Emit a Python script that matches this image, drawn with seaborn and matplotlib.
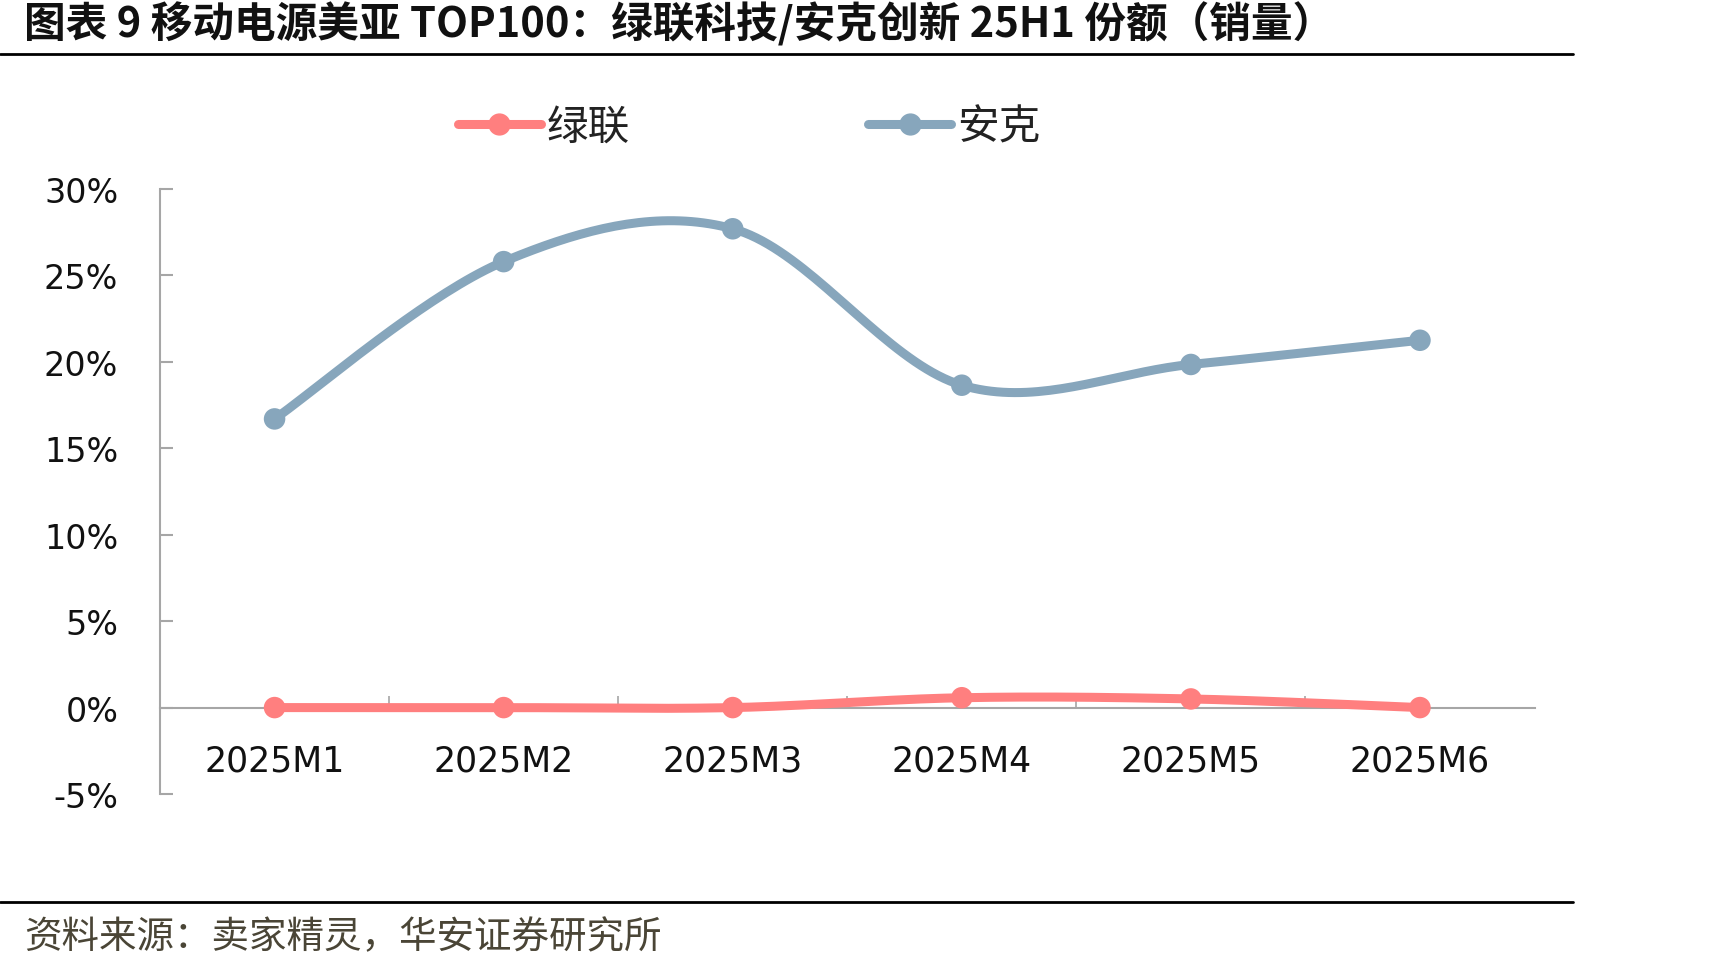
import numpy as np
import pandas as pd
import matplotlib
matplotlib.use("Agg")
import matplotlib.pyplot as plt
from matplotlib.lines import Line2D
from matplotlib.ticker import FixedLocator, PercentFormatter
import seaborn as sns

sns.set_theme(style="white")
plt.rcParams["font.family"] = ["Noto Sans CJK SC", "DejaVu Sans"]
plt.rcParams["axes.unicode_minus"] = False

# Data
months = ["2025M1", "2025M2", "2025M3", "2025M4", "2025M5", "2025M6"]
ugreen = [0.0, 0.0, 0.0, 0.0057, 0.0050, 0.0]
anker = [0.167, 0.258, 0.277, 0.1865, 0.1985, 0.2125]
series_names = ["绿联", "安克"]
colors = {"绿联": "#FF7F7F", "安克": "#87A6BC"}

title = "图表 9 移动电源美亚 TOP100：绿联科技/安克创新 25H1 份额（销量）"
source = "资料来源：卖家精灵，华安证券研究所"


def smooth(y, n=40):
    # Excel-style smoothed line: cubic Bezier with Catmull-Rom control points
    x = np.arange(len(y), dtype=float)
    y = np.asarray(y, dtype=float)
    xs, ys = [], []
    for i in range(len(y) - 1):
        x0, y0 = x[i], y[i]
        x3, y3 = x[i + 1], y[i + 1]
        xp, yp = (x[i - 1], y[i - 1]) if i > 0 else (x0, y0)
        xn, yn = (x[i + 2], y[i + 2]) if i + 2 < len(y) else (x3, y3)
        x1, y1 = x0 + (x3 - xp) / 6, y0 + (y3 - yp) / 6
        x2, y2 = x3 - (xn - x0) / 6, y3 - (yn - y0) / 6
        t = np.linspace(0, 1, n)
        b = [(1 - t) ** 3, 3 * (1 - t) ** 2 * t, 3 * (1 - t) * t ** 2, t ** 3]
        xs.append(b[0] * x0 + b[1] * x1 + b[2] * x2 + b[3] * x3)
        ys.append(b[0] * y0 + b[1] * y1 + b[2] * y2 + b[3] * y3)
    return np.concatenate(xs), np.concatenate(ys)


points = pd.DataFrame({
    "x": list(range(len(months))) * 2,
    "share": ugreen + anker,
    "series": [series_names[0]] * len(months) + [series_names[1]] * len(months),
})
curves = []
for name, vals in zip(series_names, [ugreen, anker]):
    sx, sy = smooth(vals)
    curves.append(pd.DataFrame({"x": sx, "share": sy, "series": name}))
curves = pd.concat(curves, ignore_index=True)

fig = plt.figure(figsize=(17.3, 9.7), dpi=100)
ax = fig.add_axes([0.0925, 0.1804, 0.7945, 0.6237])

sns.lineplot(curves, x="x", y="share", hue="series", palette=colors, ax=ax,
             linewidth=6.5, sort=False, estimator=None, legend=False,
             solid_capstyle="round", zorder=3)
sns.scatterplot(points, x="x", y="share", hue="series", palette=colors, ax=ax,
                s=240, linewidth=0, legend=False, zorder=4)

ax.set_xlim(-0.5, len(months) - 0.5)
ax.set_ylim(-0.05, 0.30)
ax.set_xlabel("")
ax.set_ylabel("")

# axes styling (Excel-like)
for side in ["top", "right"]:
    ax.spines[side].set_visible(False)
ax.spines["left"].set_color("#A6A6A6")
ax.spines["left"].set_linewidth(1.5)
ax.spines["bottom"].set_position(("data", 0))
ax.spines["bottom"].set_color("#A6A6A6")
ax.spines["bottom"].set_linewidth(1.5)

ax.yaxis.set_major_locator(FixedLocator(np.arange(-0.05, 0.301, 0.05)))
ax.yaxis.set_major_formatter(PercentFormatter(1.0, decimals=0))
ax.tick_params(axis="y", direction="in", length=9, width=1.5, color="#A6A6A6",
               labelsize=24, pad=30, left=True)

ax.set_xticks(range(len(months)))
ax.set_xticklabels(months)
ax.xaxis.set_minor_locator(FixedLocator(np.arange(0.5, len(months) - 1, 1.0)))
ax.tick_params(axis="x", which="major", length=0, labelsize=25, pad=26)
ax.tick_params(axis="x", which="minor", direction="in", length=9, width=1.2,
               color="#A6A6A6", bottom=True)
for lab in ax.get_xticklabels() + ax.get_yticklabels():
    lab.set_family("DejaVu Sans")
    lab.set_color("#111111")

# legend above the plot
handles = [Line2D([], [], color=colors[n], linewidth=6.5, marker="o", markersize=15,
                  solid_capstyle="round") for n in series_names]
fig.legend(handles, series_names, loc="center", bbox_to_anchor=(0.433, 0.868), ncol=2,
           frameon=False, fontsize=30, handlelength=2.0, handletextpad=0.15,
           columnspacing=5.7, labelcolor="#222222")

# title, rules and source
fig.text(0.014, 0.975, title, fontsize=30, fontweight="bold", ha="left", va="center",
         color="#111111")
fig.add_artist(Line2D([0, 0.909], [0.943, 0.943], transform=fig.transFigure,
                      color="black", linewidth=2))
fig.add_artist(Line2D([0, 0.909], [0.069, 0.069], transform=fig.transFigure,
                      color="black", linewidth=2))
fig.text(0.014, 0.033, source, fontsize=27, ha="left", va="center", color="#4A4536")

fig.savefig("out.png", dpi=100)
